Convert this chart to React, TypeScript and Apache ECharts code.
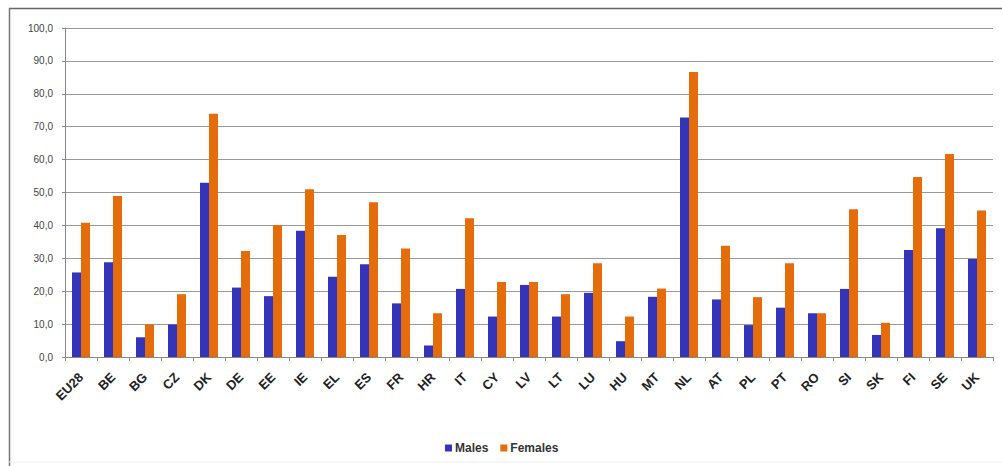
import React, { useEffect, useRef } from "react";
import * as echarts from "echarts";

const categories = ["EU28","BE","BG","CZ","DK","DE","EE","IE","EL","ES","FR","HR","IT","CY","LV","LT","LU","HU","MT","NL","AT","PL","PT","RO","SI","SK","FI","SE","UK"];
const males = [25.7,28.8,6.0,9.9,53.0,21.1,18.5,38.4,24.4,28.2,16.3,3.5,20.7,12.3,21.9,12.3,19.5,4.8,18.3,72.8,17.5,9.7,15.0,13.3,20.7,6.7,32.5,39.1,29.8];
const females = [40.8,48.9,9.9,19.1,73.9,32.2,40.1,51.0,37.1,47.0,33.0,13.3,42.2,22.8,22.8,19.1,28.5,12.3,20.8,86.6,33.8,18.2,28.5,13.3,44.9,10.4,54.7,61.7,44.5];
const seriesNames = ["Males", "Females"];
const yTicks = { min: 0, max: 100, interval: 10 };

export default function App() {
  const ref = useRef<HTMLDivElement>(null);
  useEffect(() => {
    if (!ref.current) return;
    const chart = echarts.init(ref.current, undefined, { renderer: "svg" });
    chart.setOption({
      animation: false,
      backgroundColor: "#ffffff",
      textStyle: { fontFamily: "Liberation Sans, Arial, sans-serif" },
      graphic: [
        { type: "line", shape: { x1: 9, y1: 8.5, x2: 1002, y2: 8.5 }, style: { stroke: "#666", lineWidth: 1.5 } },
        { type: "line", shape: { x1: 9.5, y1: 8, x2: 9.5, y2: 466 }, style: { stroke: "#777", lineWidth: 1.5 } },
        { type: "line", shape: { x1: 9, y1: 462, x2: 1002, y2: 462 }, style: { stroke: "#eee", lineWidth: 1 } },
      ],
      legend: {
        data: seriesNames,
        left: 440,
        top: 437,
        itemWidth: 7,
        itemHeight: 7,
        itemGap: 12,
        icon: "rect",
        textStyle: { fontSize: 12, fontWeight: "bold", color: "#333", padding: [0, 0, 0, -2] },
      },
      grid: { left: 65, right: 9, top: 28, bottom: 109 },
      xAxis: {
        type: "category",
        data: categories,
        axisLine: { lineStyle: { color: "#888", width: 1 } },
        axisTick: { show: true, length: 4, lineStyle: { color: "#888" } },
        axisLabel: { rotate: 45, fontSize: 13, fontWeight: "bold", color: "#222", margin: 18, interval: 0, hideOverlap: false },
      },
      yAxis: {
        type: "value",
        min: yTicks.min,
        max: yTicks.max,
        interval: yTicks.interval,
        axisLine: { show: true, lineStyle: { color: "#888" } },
        axisTick: { show: true, length: 3, lineStyle: { color: "#888" } },
        axisLabel: { fontSize: 10, color: "#444", margin: 12, formatter: (v: number) => v.toFixed(1).replace(".", ",") },
        splitLine: { lineStyle: { color: "#999", width: 1 } },
      },
      series: [
        { name: seriesNames[0], type: "bar", data: males, barWidth: 9, barGap: "0%", itemStyle: { color: "#3434bb" } },
        { name: seriesNames[1], type: "bar", data: females, barWidth: 9, barGap: "0%", itemStyle: { color: "#e46c0a" } },
      ],
    });
    return () => chart.dispose();
  }, []);
  return <div ref={ref} style={{ position: "fixed", left: 0, top: 0, width: 1002, height: 466 }} />;
}
